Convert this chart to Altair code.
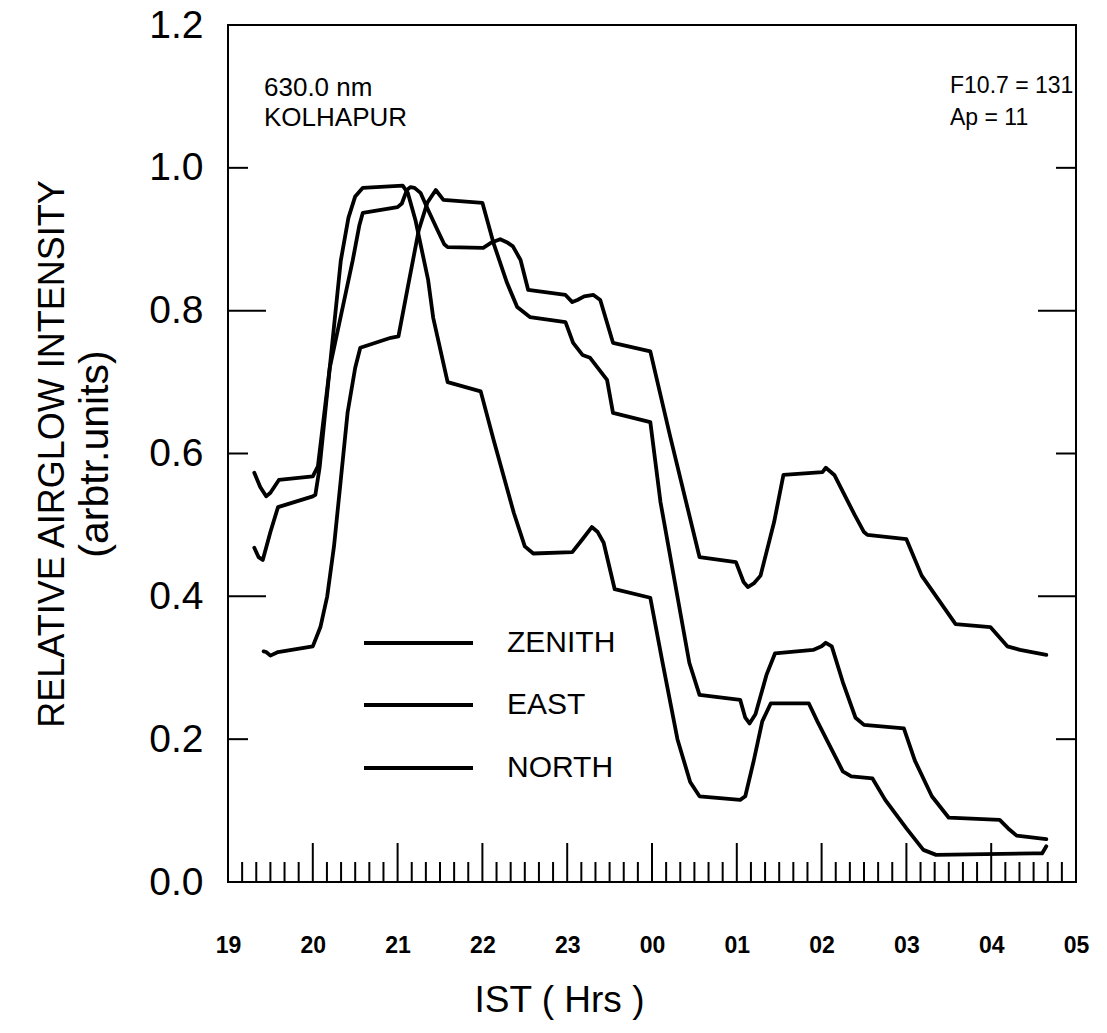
import altair as alt
import pandas as pd

# ---------------- data (hours since midnight of first day; 24 = 00 IST) ----------------
zenith_t = [19.31, 19.36, 19.41, 19.50, 19.59, 20.00, 20.03, 20.08, 20.20, 20.47, 20.55, 20.59,
            21.00, 21.05, 21.11, 21.15, 21.20, 21.27, 21.36, 21.47, 21.55, 21.59, 22.01, 22.10,
            22.21, 22.30, 22.36, 22.45, 22.54, 22.98, 23.06, 23.12, 23.20, 23.31, 23.39, 23.54,
            23.98, 24.21, 24.56, 24.99, 25.08, 25.13, 25.20, 25.28, 25.44, 25.55, 26.01, 26.05,
            26.15, 26.39, 26.50, 26.54, 27.00, 27.18, 27.58, 27.99, 28.19, 28.34, 28.65]
zenith_v = [0.468, 0.455, 0.451, 0.490, 0.525, 0.540, 0.542, 0.580, 0.720, 0.870, 0.920, 0.937,
            0.945, 0.950, 0.969, 0.973, 0.972, 0.965, 0.941, 0.913, 0.893, 0.889, 0.888, 0.895,
            0.900, 0.895, 0.890, 0.871, 0.829, 0.822, 0.812, 0.815, 0.820, 0.822, 0.815, 0.755,
            0.743, 0.626, 0.455, 0.448, 0.420, 0.413, 0.418, 0.429, 0.504, 0.570, 0.574, 0.580,
            0.570, 0.514, 0.490, 0.486, 0.480, 0.429, 0.361, 0.357, 0.330, 0.325, 0.318]

east_t = [19.42, 19.45, 19.50, 19.59, 20.00, 20.09, 20.17, 20.25, 20.33, 20.41, 20.50, 20.56,
          20.92, 21.01, 21.13, 21.25, 21.35, 21.45, 21.54, 22.00, 22.13, 22.29, 22.41, 22.56,
          22.98, 23.07, 23.18, 23.27, 23.47, 23.54, 23.98, 24.10, 24.44, 24.56, 25.04, 25.10,
          25.15, 25.22, 25.35, 25.45, 25.90, 26.00, 26.05, 26.12, 26.25, 26.40, 26.50, 26.97,
          27.10, 27.30, 27.50, 28.10, 28.20, 28.30, 28.65]
east_v = [0.323, 0.322, 0.317, 0.322, 0.330, 0.357, 0.400, 0.470, 0.563, 0.657, 0.720, 0.748,
          0.762, 0.764, 0.839, 0.913, 0.951, 0.969, 0.955, 0.951, 0.895, 0.839, 0.805, 0.791,
          0.784, 0.755, 0.738, 0.734, 0.703, 0.657, 0.644, 0.532, 0.307, 0.262, 0.255, 0.230,
          0.222, 0.235, 0.290, 0.320, 0.325, 0.330, 0.335, 0.330, 0.280, 0.230, 0.220, 0.215,
          0.170, 0.120, 0.090, 0.087, 0.075, 0.065, 0.060]

north_t = [19.31, 19.38, 19.45, 19.50, 19.60, 20.00, 20.06, 20.20, 20.33, 20.42, 20.50, 20.59,
           21.06, 21.12, 21.21, 21.36, 21.42, 21.59, 21.98, 22.13, 22.37, 22.50, 22.60, 23.06,
           23.18, 23.29, 23.36, 23.43, 23.56, 23.98, 24.12, 24.30, 24.45, 24.56, 25.04, 25.10,
           25.20, 25.30, 25.40, 25.85, 25.95, 26.10, 26.25, 26.35, 26.60, 26.75, 27.00, 27.20,
           27.35, 28.50, 28.60, 28.65]
north_v = [0.573, 0.553, 0.540, 0.545, 0.563, 0.568, 0.582, 0.720, 0.870, 0.930, 0.960, 0.972,
           0.975, 0.965, 0.927, 0.843, 0.790, 0.700, 0.687, 0.620, 0.517, 0.470, 0.460, 0.462,
           0.480, 0.497, 0.490, 0.475, 0.410, 0.398, 0.310, 0.200, 0.140, 0.120, 0.115, 0.120,
           0.170, 0.225, 0.250, 0.250, 0.225, 0.190, 0.155, 0.148, 0.145, 0.115, 0.075, 0.045,
           0.038, 0.040, 0.040, 0.050]

legend_labels = ["ZENITH", "EAST", "NORTH"]
x_ticks_major = list(range(19, 30))
y_ticks_short = [0.2, 0.6, 1.0]
y_ticks_long = [0.4, 0.8]
annot_left = ["630.0 nm", "KOLHAPUR"]
annot_right = ["F10.7 = 131", "Ap = 11"]
y_title = ["RELATIVE AIRGLOW INTENSITY", "(arbtr.units)"]
x_title = "IST ( Hrs )"

# ---------------- tables ----------------
rows = []
for name, ts, vs in [("ZENITH", zenith_t, zenith_v), ("EAST", east_t, east_v), ("NORTH", north_t, north_v)]:
    for t, v in zip(ts, vs):
        rows.append({"series": name, "t": t, "v": v})
df = pd.DataFrame(rows)

minor = []
for h in x_ticks_major[:-1]:
    for k in range(1, 6):
        minor.append(h + k / 6.0)
df_major = pd.DataFrame({"t": x_ticks_major})
df_minor = pd.DataFrame({"t": minor})
df_ys = pd.DataFrame({"v": y_ticks_short})
df_yl = pd.DataFrame({"v": y_ticks_long})
one = pd.DataFrame({"a": [0]})

W, H = 848, 857
FONT = "Liberation Sans"

xscale = alt.Scale(domain=[19, 29], nice=False, zero=False)
yscale = alt.Scale(domain=[0, 1.2], nice=False, zero=True)

xaxis = alt.Axis(values=x_ticks_major, ticks=False, tickSize=0, domain=False, grid=False,
                 labelExpr="((datum.value % 24) < 10 ? '0' : '') + (datum.value % 24)",
                 labelFont=FONT, labelFontSize=23, labelFontWeight="bold", labelColor="black",
                 labelPadding=52, labelBaseline="top", labelFlush=False, labelOverlap=False,
                 title=x_title, titleFont=FONT, titleFontSize=37, titleFontWeight="normal",
                 titleColor="black", titleX=331, titleY=118, titleAlign="center",
                 titleBaseline="middle", titleAnchor="start")
yaxis = alt.Axis(values=[0, 0.2, 0.4, 0.6, 0.8, 1.0, 1.2], format=".1f", ticks=False, tickSize=0,
                 domain=False, grid=False, labelFont=FONT, labelFontSize=39, labelColor="black",
                 labelPadding=25, labelFlush=False, labelOverlap=False, title=None)

lines = alt.Chart(df).mark_line(color="black", strokeWidth=3.8, strokeJoin="round",
                                strokeCap="round").encode(
    x=alt.X("t:Q", scale=xscale, axis=xaxis),
    y=alt.Y("v:Q", scale=yscale, axis=yaxis),
    detail="series:N",
    order="t:Q",
)

major_ticks = alt.Chart(df_major).mark_rule(color="black", strokeWidth=2).encode(
    x=alt.X("t:Q"), y=alt.value(H), y2=alt.value(H - 39))
minor_ticks = alt.Chart(df_minor).mark_rule(color="black", strokeWidth=2).encode(
    x=alt.X("t:Q"), y=alt.value(H), y2=alt.value(H - 20))

def yticks(d, x0, x1):
    return alt.Chart(d).mark_rule(color="black", strokeWidth=2).encode(
        y=alt.Y("v:Q"), x=alt.value(x0), x2=alt.value(x1))

tick_layers = [
    yticks(df_ys, 0, 20), yticks(df_yl, 0, 38),
    yticks(df_ys, W, W - 20), yticks(df_yl, W, W - 38),
]

# manual legend
leg_y = [618, 680, 743]
legend_layers = []
for lab, yy in zip(legend_labels, leg_y):
    legend_layers.append(alt.Chart(one).mark_rule(color="black", strokeWidth=3.8).encode(
        x=alt.value(136), x2=alt.value(245), y=alt.value(yy)))
    legend_layers.append(alt.Chart(one).mark_text(
        align="left", baseline="middle", font=FONT, fontSize=30, color="black", text=lab
    ).encode(x=alt.value(279), y=alt.value(yy)))

# annotations
ann_layers = []
for txt, xx, yy, fs in [(annot_left[0], 36, 63, 26), (annot_left[1], 36, 93, 26),
                        (annot_right[0], 722, 61, 23), (annot_right[1], 722, 93, 23)]:
    ann_layers.append(alt.Chart(one).mark_text(
        align="left", baseline="middle", font=FONT, fontSize=fs, color="black", text=txt
    ).encode(x=alt.value(xx), y=alt.value(yy)))

# y title (two rotated lines)
ytitle_layers = []
for txt, xx, fs in [(y_title[0], -175, 36), (y_title[1], -132, 41)]:
    ytitle_layers.append(alt.Chart(one).mark_text(
        angle=270, align="center", baseline="middle", font=FONT,
        fontSize=fs, color="black", text=txt
    ).encode(x=alt.value(xx), y=alt.value(429)))

chart = alt.layer(
    lines, major_ticks, minor_ticks, *tick_layers, *legend_layers, *ann_layers, *ytitle_layers
).properties(
    width=W, height=H,
    autosize=alt.AutoSizeParams(type="none"),
    padding={"left": 228, "top": 25, "right": 31, "bottom": 151},
    background="white",
).configure_view(stroke="black", strokeWidth=2)

chart.save("out.html", embed_options={"renderer": "svg", "actions": False})
